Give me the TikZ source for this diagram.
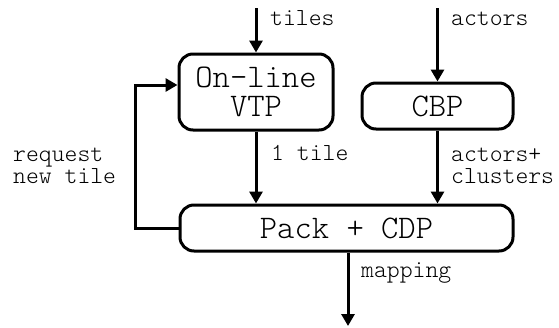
\documentclass[tikz,border=0pt]{standalone}
\usepackage{fontspec}
\newfontfamily\lmlight{Latin Modern Mono Light}
\usetikzlibrary{arrows.meta}
\tikzset{
  blk/.style={draw, line width=3pt, rounded corners=14pt, inner sep=0pt, align=center, font=\lmlight\fontsize{33}{29}\selectfont},
  lbl/.style={inner sep=0pt, align=left, font=\lmlight\fontsize{24.5}{22}\selectfont},
  arr/.style={line width=3pt, -{Triangle[length=12pt,width=13pt]}},
  ln/.style={line width=3pt}
}
\begin{document}
\begin{tikzpicture}[x=1pt,y=-1pt]
\useasboundingbox (0,0) rectangle (559,327);
\node[blk, minimum width=154pt, minimum height=76pt] (vtp) at (256,92) {On-line\\VTP};
\node[blk, minimum width=151pt, minimum height=46pt] (cbp) at (437.5,106) {CBP};
\node[blk, minimum width=333pt, minimum height=46pt] (pack) at (346.5,228) {Pack + CDP};
\coordinate (tin) at (256,8);
\coordinate (ain) at (437.5,8);
\coordinate (out) at (348,326);
\coordinate (fb) at (135,85);
\draw[arr] (tin) -- (vtp.north);
\draw[arr] (ain) -- (cbp.north);
\draw[arr] (vtp.south) -- (vtp.south |- pack.north);
\draw[arr] (cbp.south) -- (cbp.south |- pack.north);
\draw[arr] (pack.south -| out) -- (out);
\draw[arr] (pack.west) -| (fb) -- (fb -| vtp.west);
\node[lbl, anchor=base west] (tl) at (270,25) {tiles};
\node[lbl, anchor=base west] (al) at (451,25) {actors};
\node[lbl, anchor=base west] (ol) at (271,160) {1 tile};
\node[lbl, anchor=base west] (cl) at (451,183) {actors+\\clusters};
\node[lbl, anchor=base west] (rl) at (13,183) {request\\new tile};
\node[lbl, anchor=base west] (ml) at (361,277) {mapping};
\end{tikzpicture}
\end{document}
